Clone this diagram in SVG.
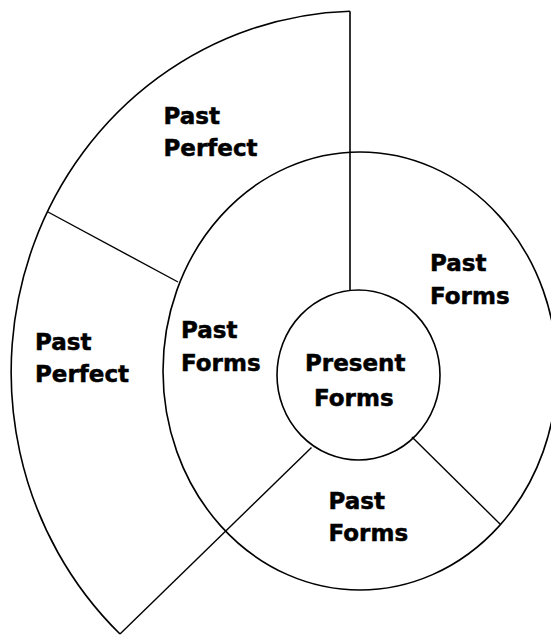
<svg xmlns="http://www.w3.org/2000/svg" width="551" height="637" viewBox="0 0 551 637">
<style>
.ln{fill:none;stroke:#000;stroke-width:1.6}
.thin{fill:none;stroke:#000;stroke-width:1.4}
.lb{font-family:"DejaVu Sans","Liberation Sans",sans-serif;font-weight:bold;font-size:23px;fill:#000;stroke:#000;stroke-width:0.5}
</style>
<rect width="551" height="637" fill="#fff"/>
<g id="outer-ring">
<path class="ln" d="M350 11.2 A349 361 0 0 0 120 634"/>
</g>
<g id="middle-ring">
<ellipse class="ln" cx="360" cy="371" rx="197" ry="219"/>
</g>
<g id="present-forms">
<ellipse class="ln" cx="358.5" cy="375" rx="81.5" ry="85"/>
<text class="lb" x="305" y="371">Present</text>
<text class="lb" x="314" y="405.5">Forms</text>
</g>
<g id="past-perfect-top">
<text class="lb" x="163.5" y="124">Past</text>
<text class="lb" x="163.5" y="156">Perfect</text>
</g>
<g id="past-perfect-left">
<text class="lb" x="35" y="350">Past</text>
<text class="lb" x="35" y="381.5">Perfect</text>
</g>
<g id="past-forms-left">
<text class="lb" x="181" y="337.5">Past</text>
<text class="lb" x="181" y="371">Forms</text>
</g>
<g id="past-forms-right">
<text class="lb" x="430" y="270.5">Past</text>
<text class="lb" x="430" y="303.5">Forms</text>
</g>
<g id="past-forms-bottom">
<text class="lb" x="328.5" y="508.5">Past</text>
<text class="lb" x="328.5" y="541">Forms</text>
</g>
<g id="connectors">
<line class="ln" x1="350" y1="11.2" x2="350" y2="290"/>
<line class="thin" x1="48" y1="212" x2="178" y2="282"/>
<line class="thin" x1="120" y1="634" x2="311.5" y2="447.5"/>
<line class="thin" x1="412" y1="437" x2="500" y2="524"/>
</g>
</svg>
